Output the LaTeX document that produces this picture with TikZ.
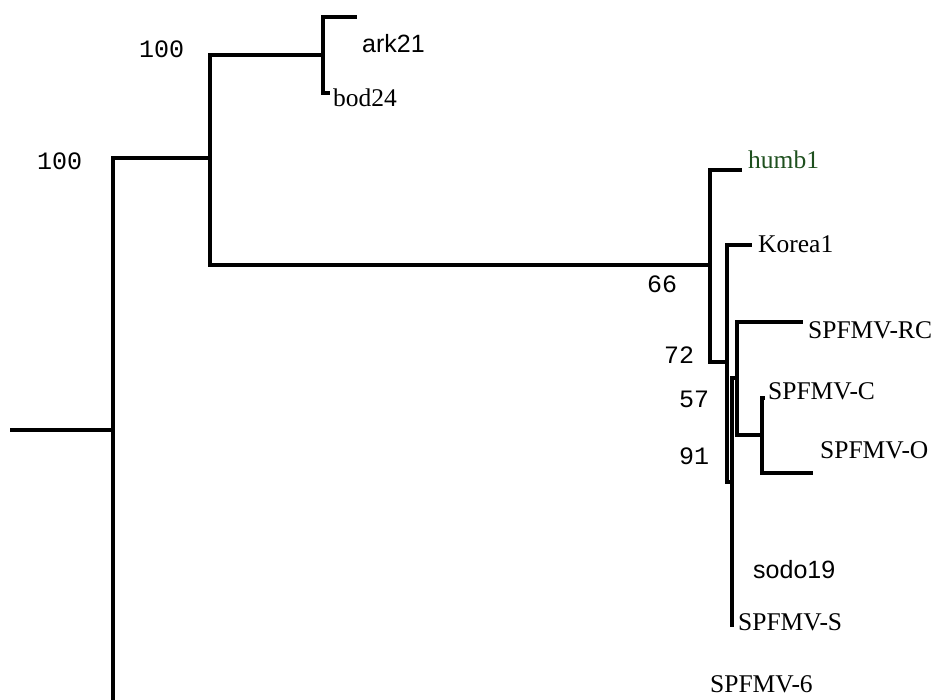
\documentclass[tikz,border=0pt]{standalone}
\usepackage{fontspec}
\setmainfont{Liberation Serif}
\setmonofont{Liberation Mono}
\newfontfamily\arialfam{Liberation Sans}
\definecolor{humbgreen}{RGB}{30,80,30}

\begin{document}
\begin{tikzpicture}[x=1pt,y=-1pt,
    branch/.style={line width=3.7pt,line join=miter},
    taxon/.style={anchor=west,inner sep=0pt,font=\fontsize{25.5}{28}\selectfont},
    sanstaxon/.style={taxon,font=\fontsize{25}{28}\arialfam},
    boot/.style={anchor=west,inner sep=0pt,font=\fontsize{25}{28}\ttfamily}]
  \useasboundingbox (0,0) rectangle (940,700);
  % inner nodes of the tree
  \coordinate (root) at (10,430);
  \coordinate (na) at (113,430);
  \coordinate (nb) at (210,158);
  \coordinate (nc) at (323,55);
  \coordinate (nd) at (710,265);
  \coordinate (ne) at (727,362);
  \coordinate (nf) at (732,482);
  \coordinate (ng) at (737,378);
  \coordinate (nh) at (762,435);
  % tips
  \coordinate (ark) at (357,17);
  \coordinate (bod) at (330,93);
  \coordinate (humb) at (742,170);
  \coordinate (korea) at (752,245);
  \coordinate (rc) at (803,322);
  \coordinate (cc) at (765,398);
  \coordinate (oo) at (813,473);
  \coordinate (ss) at (732,627);
  \coordinate (s6) at (458,701.5);
  \draw[branch] (root) -- (na);
  \draw[branch] (na) |- (nb) (na) |- (s6);
  \draw[branch] (nb) |- (nc) (nb) |- (nd);
  \draw[branch] (nc) |- (ark) (nc) |- (bod);
  \draw[branch] (nd) |- (humb) (nd) |- (ne);
  \draw[branch] (ne) |- (korea) (ne) |- (nf);
  \draw[branch] (nf) |- (ng) (nf) |- (ss);
  \draw[branch] (ng) |- (rc) (ng) |- (nh);
  \draw[branch] (nh) |- (cc) (nh) |- (oo);
  % labels
  \node[sanstaxon] (arklab) at (362,44) {ark21};
  \node[taxon] (bodlab) at (333,98) {bod24};
  \node[taxon,text=humbgreen] (humblab) at (748,160) {humb1};
  \node[taxon] (korealab) at (758,244) {Korea1};
  \node[taxon] (rclab) at (808,330) {SPFMV-RC};
  \node[taxon] (clab) at (768,391) {SPFMV-C};
  \node[taxon] (olab) at (820,450) {SPFMV-O};
  \node[sanstaxon] (sodolab) at (753,570) {sodo19};
  \node[taxon] (slab) at (738,622) {SPFMV-S};
  \node[taxon] (s6lab) at (710,684) {SPFMV-6};
  \node[boot] (bsb) at (139,49) {100};
  \node[boot] (bsa) at (37,161) {100};
  \node[boot] (bsd) at (647,284) {66};
  \node[boot] (bse) at (664,355) {72};
  \node[boot] (bsf) at (679,399) {57};
  \node[boot] (bsg) at (679,456) {91};
\end{tikzpicture}
\end{document}
